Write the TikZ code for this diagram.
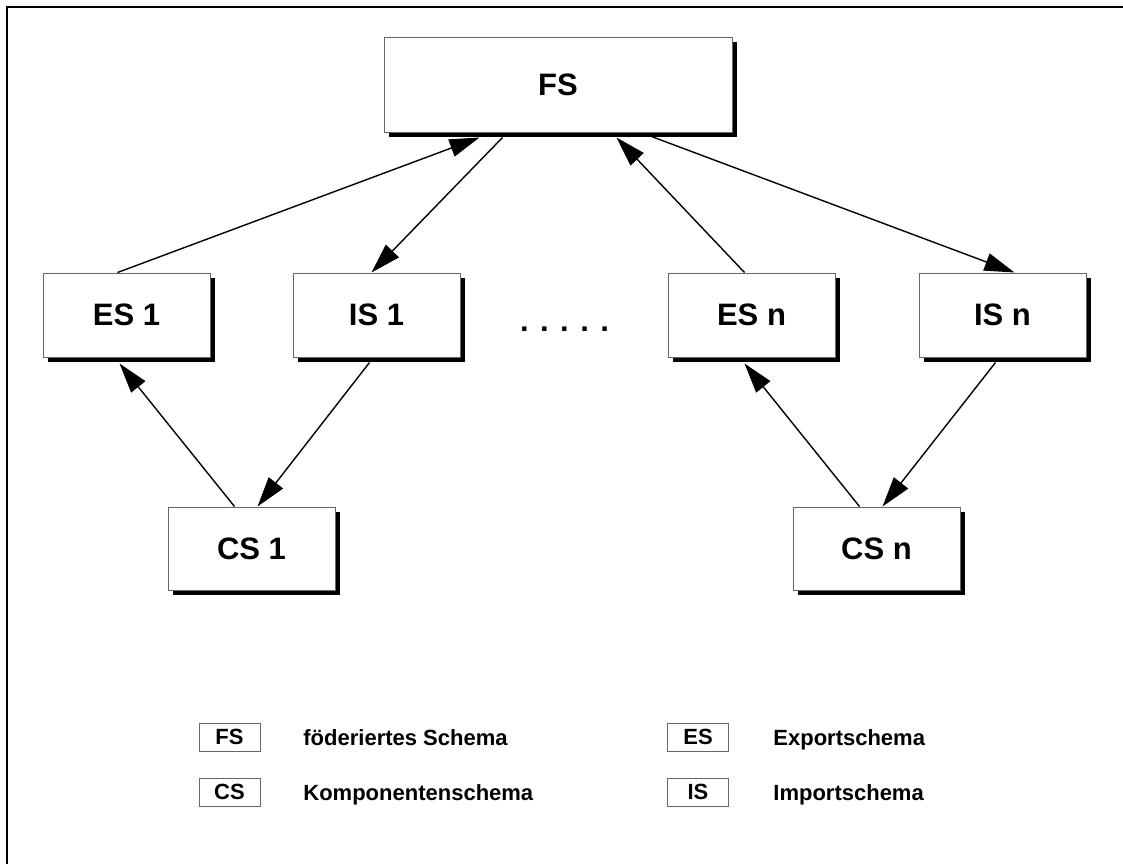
\documentclass[tikz,border=0pt]{standalone}
\usepackage{fontspec}
\setmainfont{Liberation Sans}
\usetikzlibrary{calc,arrows.meta,shadows}
\tikzset{
	>={Triangle[length=15pt,width=9pt]},
	schema/.style={
		rectangle,
		draw=black!60, line width=0.5pt,
		fill=white,
		drop shadow={opacity=1, fill=black, shadow xshift=2.5pt, shadow yshift=-2.5pt},
		minimum width=83.5pt,
		minimum height=42pt,
		inner sep=0pt,
		font=\fontsize{15.5}{18}\selectfont\bfseries},
	legende/.style={
		rectangle,
		draw=black!60, line width=0.5pt,
		minimum width=30.5pt,
		minimum height=14pt,
		inner sep=0pt,
		font=\fontsize{11}{13}\selectfont\bfseries},
	erklaerung/.style={anchor=base west, inner sep=0pt, font=\fontsize{11}{13}\selectfont\bfseries},
	line/.style={draw, line width=0.7pt, ->},
}
\begin{document}
\begin{tikzpicture}[x=0.5pt, y=-0.5pt]
	\useasboundingbox (0,0) rectangle (1123,864);
	\draw[line width=1pt] (7,864) -- (7,7) -- (1123,7);
	% Schemata
	\node[schema, minimum width=174pt, minimum height=47.5pt] (fs) at (558,84.5) {FS};
	\node[schema] (es1) at (126.5,315) {ES 1};
	\node[schema] (is1) at (376.5,315) {IS 1};
	\node[schema] (esn) at (751.5,315) {ES n};
	\node[schema] (isn) at (1002.5,315) {IS n};
	\node[schema, minimum height=41.5pt] (cs1) at (251.5,548.5) {CS 1};
	\node[schema, minimum height=41.5pt] (csn) at (876.5,548.5) {CS n};
	\node[anchor=base, inner sep=0pt, font=\fontsize{15.5}{18}\selectfont\bfseries] (dots) at (564.5,331) {. . . . .};
	% Verbindungen
	\path[line] ($(es1.north west)+(75,0)$) -- ($(fs.south west)+(96,5)$);
	\path[line] ($(fs.south west)+(119,5)$) -- ($(is1.north west)+(79,0)$);
	\path[line] ($(esn.north west)+(77,0)$) -- ($(fs.south west)+(233,5)$);
	\path[line] ($(fs.south west)+(268,4)$) -- ($(isn.north west)+(96,0)$);
	\path[line] ($(cs1.north west)+(67,0)$) -- ($(es1.south west)+(77,6)$);
	\path[line] ($(is1.south west)+(77,5)$) -- ($(cs1.north west)+(90,0)$);
	\path[line] ($(csn.north west)+(67,0)$) -- ($(esn.south west)+(77,6)$);
	\path[line] ($(isn.south west)+(77,5)$) -- ($(csn.north west)+(90,0)$);
	% Legende
	\node[legende] (lfs) at (229.5,737) {FS};
	\node[erklaerung] (tfs) at (303,745) {föderiertes Schema};
	\node[legende] (lcs) at (229.5,792) {CS};
	\node[erklaerung] (tcs) at (303,800) {Komponentenschema};
	\node[legende] (les) at (698,737) {ES};
	\node[erklaerung] (tes) at (773,745) {Exportschema};
	\node[legende] (lis) at (698,792) {IS};
	\node[erklaerung] (tis) at (773,800) {Importschema};
\end{tikzpicture}
\end{document}
